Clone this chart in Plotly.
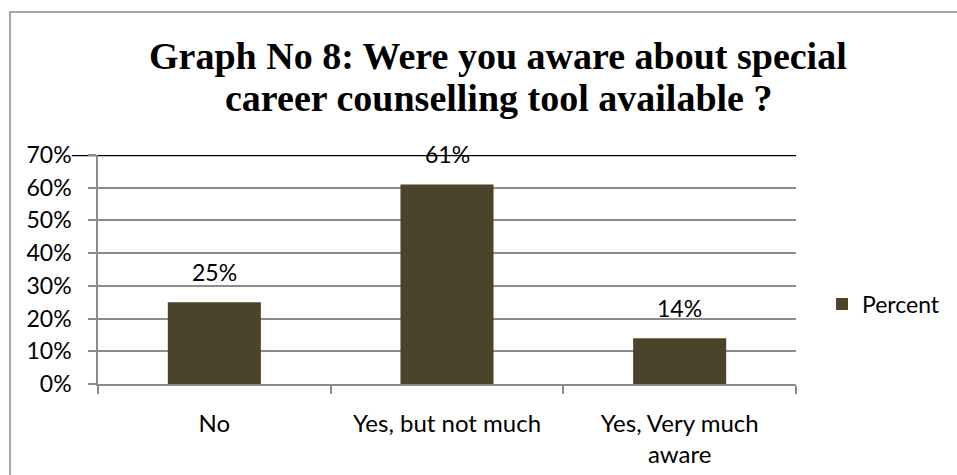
import plotly.graph_objects as go

# Survey responses
categories = ["No", "Yes, but not much", "Yes, Very much<br>aware"]
percent = [0.25, 0.61, 0.14]
percent_labels = ["25%", "61%", "14%"]
y_ticks = [0, 0.1, 0.2, 0.3, 0.4, 0.5, 0.6, 0.7]
y_tick_labels = ["0%", "10%", "20%", "30%", "40%", "50%", "60%", "70%"]
title_lines = ["Graph No 8: Were you aware about special",
               "career counselling tool available ?"]
series_name = "Percent"

W, H = 957, 475
L, R, T, B = 98, 161, 155, 91
PW, PH = W - L - R, H - T - B

def px_x(px):
    return (px - L) / PW

def px_y(py):
    return (H - B - py) / PH

BAR = "#4A452A"
GRID = "#8C8C8C"
SANS = "Lato"
SERIF = "Liberation Serif"
FS = 23

fig = go.Figure()
fig.add_trace(go.Bar(
    x=categories, y=percent, name=series_name,
    marker=dict(color=BAR, line=dict(width=0)),
    showlegend=True,
))

annotations = []
for cat, val, lab in zip(categories, percent, percent_labels):
    annotations.append(dict(
        x=cat, y=val, xref="x", yref="y", text=lab, showarrow=False,
        yanchor="middle", yshift=30, font=dict(family=SANS, size=FS, color="#000000"),
    ))
for line, py in zip(title_lines, [56, 98]):
    annotations.append(dict(
        x=px_x(498), y=px_y(py), xref="paper", yref="paper", text="<b>%s</b>" % line,
        showarrow=False, xanchor="center", yanchor="middle",
        font=dict(family=SERIF, size=38, color="#000000"),
    ))

shapes = [
    # chart frame
    dict(type="rect", xref="paper", yref="paper",
         x0=px_x(10), x1=px_x(962), y0=px_y(480), y1=px_y(12),
         line=dict(color="#8A8A8A", width=1.5), fillcolor="rgba(0,0,0,0)", layer="below"),
    # heavy top rule at 70%
    dict(type="line", xref="paper", yref="y",
         x0=px_x(72), x1=1, y0=0.7, y1=0.7,
         line=dict(color="#000000", width=2.5), layer="below"),
]

fig.update_layout(
    width=W, height=H,
    margin=dict(l=L, r=R, t=T, b=B, pad=0, autoexpand=False),
    paper_bgcolor="white", plot_bgcolor="white",
    bargap=0.6,
    font=dict(family=SANS, size=FS, color="#000000"),
    annotations=annotations,
    shapes=shapes,
    legend=dict(x=px_x(822), y=px_y(304), xanchor="left", yanchor="middle",
                font=dict(family=SANS, size=FS, color="#000000"),
                bgcolor="rgba(0,0,0,0)"),
    xaxis=dict(
        showline=True, linecolor=GRID, linewidth=1.5,
        ticks="outside", tickson="boundaries", ticklen=8, tickcolor=GRID, tickwidth=1.5,
        tickfont=dict(family=SANS, size=24, color="#000000"),
        ticklabelstandoff=17, showgrid=False, fixedrange=True, automargin=False,
    ),
    yaxis=dict(
        range=[0, 0.7], tickvals=y_ticks, ticktext=y_tick_labels,
        showline=True, linecolor=GRID, linewidth=1.5,
        ticks="outside", ticklen=8, tickcolor=GRID, tickwidth=1.5,
        showgrid=True, gridcolor=GRID, gridwidth=1.5, zeroline=False,
        tickfont=dict(family=SANS, size=FS, color="#000000"),
        ticklabelstandoff=12, fixedrange=True, automargin=False,
    ),
)

fig.write_html("out.html")
